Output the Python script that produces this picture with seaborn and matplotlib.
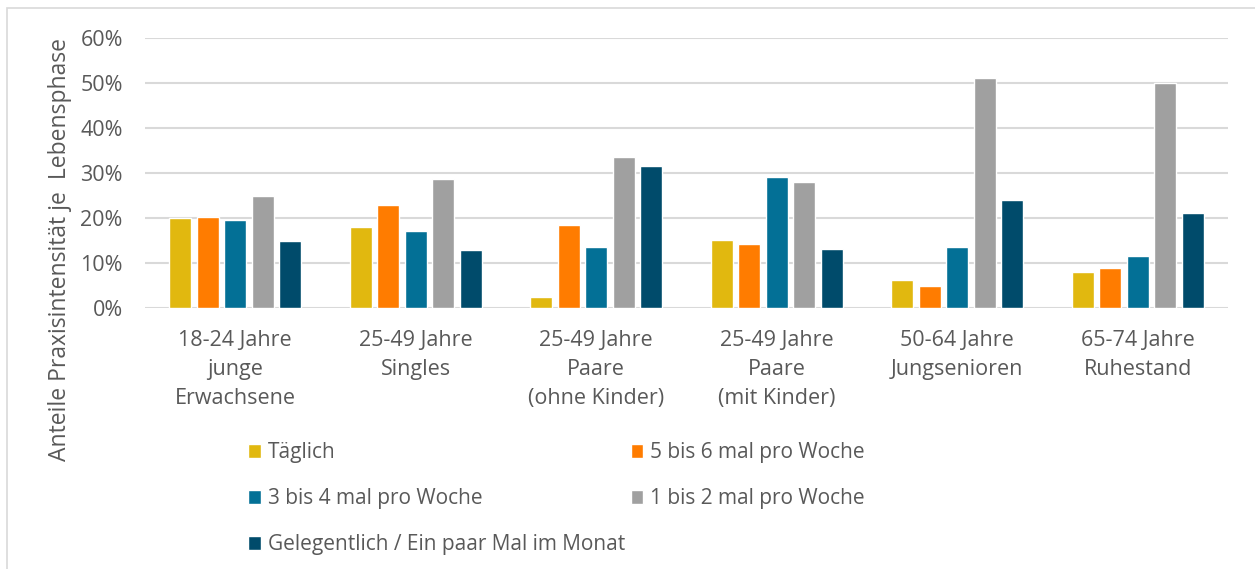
import numpy as np
import pandas as pd
import matplotlib
matplotlib.use('Agg')
import matplotlib.pyplot as plt
import seaborn as sns
from matplotlib.patches import Patch, Rectangle
from matplotlib.ticker import PercentFormatter

# ── Data ──────────────────────────────────────────────────────
groups = ['18-24 Jahre\njunge\nErwachsene', '25-49 Jahre\nSingles',
          '25-49 Jahre\nPaare\n(ohne Kinder)', '25-49 Jahre\nPaare\n(mit Kinder)',
          '50-64 Jahre\nJungsenioren', '65-74 Jahre\nRuhestand']
series = ['Täglich', '5 bis 6 mal pro Woche', '3 bis 4 mal pro Woche',
          '1 bis 2 mal pro Woche', 'Gelegentlich / Ein paar Mal im Monat']
taeglich = [0.200, 0.180, 0.025, 0.151, 0.062, 0.079]
fuenf_sechs = [0.203, 0.230, 0.185, 0.143, 0.050, 0.090]
drei_vier = [0.196, 0.171, 0.136, 0.292, 0.136, 0.116]
eins_zwei = [0.250, 0.286, 0.336, 0.281, 0.511, 0.501]
gelegentlich = [0.149, 0.129, 0.316, 0.131, 0.240, 0.211]
colors = ['#E1B80F', '#FF7C00', '#037096', '#A0A0A0', '#004B6B']

values = [taeglich, fuenf_sechs, drei_vier, eins_zwei, gelegentlich]
df = pd.DataFrame([(g, s, v[i]) for s, v in zip(series, values)
                   for i, g in enumerate(groups)],
                  columns=['Gruppe', 'Serie', 'Anteil'])

# ── Plot ──────────────────────────────────────────────────────
sns.set_style('white')
plt.rcParams['font.family'] = ['Open Sans', 'DejaVu Sans']
txt = '#595959'
fs = 15.5

fig = plt.figure(figsize=(12.55, 5.69), dpi=100)
ax = fig.add_axes([145/1255, 1-308/569, (1228-145)/1255, (308-38)/569])

sns.barplot(data=df, x='Gruppe', y='Anteil', hue='Serie', order=groups,
            hue_order=series, palette=colors, width=0.76, gap=0.2,
            saturation=1, ax=ax, legend=False)

ax.set_ylim(0, 0.6)
ax.set_xlim(-0.5, 5.5)
ax.set_yticks(np.arange(0, 0.61, 0.1))
ax.yaxis.set_major_formatter(PercentFormatter(1.0, decimals=0))
ax.grid(axis='y', color='#D9D9D9', linewidth=1.5)
ax.set_axisbelow(True)
for sp in ax.spines.values():
    sp.set_visible(False)
ax.tick_params(axis='both', length=0, labelsize=fs, labelcolor=txt)
ax.tick_params(axis='y', pad=16)
ax.tick_params(axis='x', pad=16)
for lab in ax.get_xticklabels():
    lab.set_linespacing(1.5)
ax.set_xlabel('')
ax.set_ylabel('')

fig.text(60/1255, 1-250/569, 'Anteile Praxisintensität je  Lebensphase',
         rotation=90, ha='center', va='center', fontsize=16.5, color=txt)

# legend, row-wise order like the original
order = [0, 2, 4, 1, 3]
handles = [Patch(facecolor=colors[i]) for i in order]
labels = [series[i] for i in order]
fig.legend(handles, labels, loc='upper left', bbox_to_anchor=(240/1255, 1-434/569),
           ncol=2, frameon=False, fontsize=15, labelcolor=txt,
           handlelength=0.6, handleheight=0.6, handletextpad=0.35,
           labelspacing=1.2, columnspacing=0.25, borderaxespad=0)

# outer chart border
fig.patches.append(Rectangle((7/1255, -0.1), 1.2, 1-8/569+0.1, transform=fig.transFigure,
                             fill=False, edgecolor='#D9D9D9', linewidth=1.2))

fig.savefig('out.png', dpi=100)
